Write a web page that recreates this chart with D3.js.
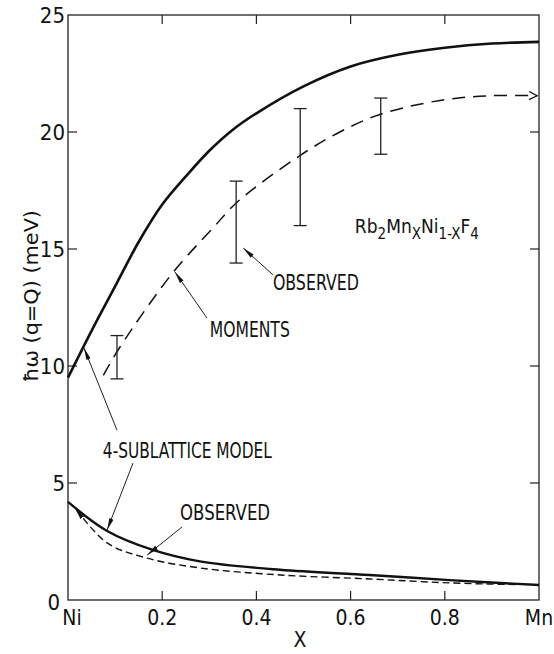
<!DOCTYPE html>
<html>
<head>
<meta charset="utf-8">
<script src="https://cdn.jsdelivr.net/npm/d3@7"></script>
<style>
  body { margin: 0; background: #fff; }
  text { font-family: "Liberation Sans Narrow", "DejaVu Sans Condensed", sans-serif; fill: #111; }
</style>
</head>
<body>
<div id="viz"></div>
<script>
// upper solid curve: 4-sublattice model
var modelX = [0, 0.05, 0.1, 0.15, 0.2, 0.25, 0.3, 0.35, 0.4, 0.5, 0.6, 0.7, 0.8, 0.9, 1.0];
var modelHigh = [9.5, 11.5, 13.4, 15.3, 16.9, 18.1, 19.2, 20.1, 20.8, 21.95, 22.8, 23.3, 23.6, 23.78, 23.85];

// upper dashed curve: moments
var momentsX = [0.075, 0.11, 0.223, 0.308, 0.359, 0.493, 0.577, 0.662, 0.79, 0.896, 0.996];
var moments = [9.6, 10.8, 14.0, 15.9, 17.0, 19.0, 20.0, 20.75, 21.35, 21.55, 21.55];

// observed points with error bars
var obsX = [0.104, 0.357, 0.493, 0.664];
var obsLow = [9.45, 14.4, 16.0, 19.05];
var obsHigh = [11.3, 17.9, 21.0, 21.45];

// lower solid curve: model
var lowX = [0, 0.083, 0.18, 0.28, 0.45, 0.64, 0.81, 1.0];
var lowModel = [4.19, 2.95, 2.14, 1.65, 1.29, 1.07, 0.85, 0.64];

// lower dashed curve: observed
var lowObsX = [0.015, 0.083, 0.168, 0.28, 0.45, 0.64, 0.81, 0.95];
var lowObs = [3.93, 2.44, 1.79, 1.37, 1.07, 0.9, 0.73, 0.66];

// tick labels
var xTicks = [0, 0.2, 0.4, 0.6, 0.8, 1];
var xTickLabels = ["Ni", "0.2", "0.4", "0.6", "0.8", "Mn"];
var yTicks = [0, 5, 10, 15, 20, 25];

var svg = d3.select('#viz').append('svg')
	.attr('width', 554)
	.attr('height', 654);

var pLeft = 68, pRight = 539, pTop = 15, pBottom = 600;

var x = d3.scaleLinear().domain([0, 1]).range([pLeft, pRight]);
var y = d3.scaleLinear().domain([0, 25]).range([pBottom, pTop]);

// markers
var defs = svg.append('defs');
defs.append('marker')
	.attr('id', 'head')
	.attr('viewBox', '0 0 12 6')
	.attr('refX', 12).attr('refY', 3)
	.attr('markerWidth', 12).attr('markerHeight', 6)
	.attr('markerUnits', 'userSpaceOnUse')
	.attr('orient', 'auto')
	.append('path').attr('d', 'M0,0.8 L12,3 L0,5.2 Z').attr('fill', '#111');
defs.append('marker')
	.attr('id', 'chevron')
	.attr('viewBox', '0 0 10 10')
	.attr('refX', 9).attr('refY', 5)
	.attr('markerWidth', 10).attr('markerHeight', 10)
	.attr('markerUnits', 'userSpaceOnUse')
	.attr('orient', 'auto')
	.append('path').attr('d', 'M1,1 L9,5 L1,9').attr('fill', 'none').attr('stroke', '#111').attr('stroke-width', 1.3);

// frame
svg.append('rect')
	.attr('x', pLeft).attr('y', pTop)
	.attr('width', pRight - pLeft).attr('height', pBottom - pTop)
	.attr('fill', 'none').attr('stroke', '#222').attr('stroke-width', 1.3);

// ticks, all pointing inward
var tl = 9;
var tickG = svg.append('g').attr('stroke', '#222').attr('stroke-width', 1.2);
xTicks.slice(1, -1).forEach(function(d) {
	tickG.append('line').attr('x1', x(d)).attr('x2', x(d)).attr('y1', pBottom).attr('y2', pBottom - tl);
	tickG.append('line').attr('x1', x(d)).attr('x2', x(d)).attr('y1', pTop).attr('y2', pTop + tl);
});
yTicks.slice(1, -1).forEach(function(d) {
	tickG.append('line').attr('x1', pLeft).attr('x2', pLeft + tl).attr('y1', y(d)).attr('y2', y(d));
	tickG.append('line').attr('x1', pRight).attr('x2', pRight - tl).attr('y1', y(d)).attr('y2', y(d));
});

// tick labels
svg.selectAll('.ylab').data(yTicks).enter().append('text')
	.attr('class', 'ylab')
	.attr('x', function(d) { return d === 0 ? pLeft - 8 : pLeft - 3; })
	.attr('y', function(d) { return y(d) + 8 + (d === 0 ? 2 : 0); })
	.attr('text-anchor', 'end')
	.attr('font-size', 22)
	.text(function(d) { return d; });

svg.selectAll('.xlab').data(xTicks).enter().append('text')
	.attr('class', 'xlab')
	.attr('x', function(d) { return x(d) + (d === 0 ? 4 : 0); })
	.attr('y', pBottom + 25)
	.attr('text-anchor', 'middle')
	.attr('font-size', 21)
	.text(function(d, i) { return xTickLabels[i]; });

// axis titles
svg.append('text')
	.attr('x', 300).attr('y', 647)
	.attr('text-anchor', 'middle')
	.attr('font-size', 21)
	.text('X');

svg.append('text')
	.attr('transform', 'translate(38,296) rotate(-90)')
	.attr('text-anchor', 'middle')
	.attr('font-size', 20)
	.attr('textLength', 172).attr('lengthAdjust', 'spacingAndGlyphs')
	.text('\u0127\u03C9 (q=Q)   (meV)');

// curves
var line = d3.line()
	.x(function(d) { return x(d[0]); })
	.y(function(d) { return y(d[1]); })
	.curve(d3.curveCatmullRom.alpha(0.5));

svg.append('path')
	.datum(d3.zip(modelX, modelHigh))
	.attr('d', line)
	.attr('fill', 'none').attr('stroke', '#111').attr('stroke-width', 2.6);

svg.append('path')
	.datum(d3.zip(momentsX, moments))
	.attr('d', line)
	.attr('fill', 'none').attr('stroke', '#111').attr('stroke-width', 1.5)
	.attr('stroke-dasharray', '13,8')
	.attr('marker-end', 'url(#chevron)');

svg.append('path')
	.datum(d3.zip(lowX, lowModel))
	.attr('d', line)
	.attr('fill', 'none').attr('stroke', '#111').attr('stroke-width', 2.4);

// drawn from right to left so the arrowhead sits at the Ni end
svg.append('path')
	.datum(d3.zip(lowObsX, lowObs).reverse())
	.attr('d', line)
	.attr('fill', 'none').attr('stroke', '#111').attr('stroke-width', 1.4)
	.attr('stroke-dasharray', '7,4')
	.attr('marker-end', 'url(#head)');

// error bars
var cap = 6.5;
var eb = svg.append('g').attr('stroke', '#222').attr('stroke-width', 1.3);
obsX.forEach(function(d, i) {
	eb.append('line').attr('x1', x(d)).attr('x2', x(d)).attr('y1', y(obsLow[i])).attr('y2', y(obsHigh[i]));
	eb.append('line').attr('x1', x(d) - cap).attr('x2', x(d) + cap).attr('y1', y(obsLow[i])).attr('y2', y(obsLow[i]));
	eb.append('line').attr('x1', x(d) - cap).attr('x2', x(d) + cap).attr('y1', y(obsHigh[i])).attr('y2', y(obsHigh[i]));
});

// annotations: text anchor in data units, arrows [tail, head]
var labels = [
	{ t: 'OBSERVED', at: [0.435, 13.25], w: 86 },
	{ t: 'MOMENTS', at: [0.301, 11.24], w: 80 },
	{ t: '4-SUBLATTICE MODEL', at: [0.074, 6.07], w: 169 },
	{ t: 'OBSERVED', at: [0.238, 3.42], w: 90 }
];
var arrows = [
	[[0.435, 13.9], [0.372, 15.04]],
	[[0.295, 12.05], [0.227, 14.02]],
	[[0.104, 7.26], [0.034, 10.77]],
	[[0.138, 5.85], [0.083, 2.99]],
	[[0.242, 3.12], [0.168, 1.92]]
];

labels.forEach(function(d) {
	svg.append('text')
		.attr('x', x(d.at[0])).attr('y', y(d.at[1]))
		.attr('font-size', 21)
		.attr('textLength', d.w).attr('lengthAdjust', 'spacingAndGlyphs')
		.text(d.t);
});

arrows.forEach(function(a) {
	svg.append('line')
		.attr('x1', x(a[0][0])).attr('y1', y(a[0][1]))
		.attr('x2', x(a[1][0])).attr('y2', y(a[1][1]))
		.attr('stroke', '#222').attr('stroke-width', 1)
		.attr('marker-end', 'url(#head)');
});

// compound formula Rb2MnxNi1-xF4
var f = svg.append('text')
	.attr('x', x(0.609)).attr('y', y(15.68))
	.attr('font-size', 19);
f.append('tspan').text('Rb');
f.append('tspan').attr('dy', 6).attr('font-size', 15).text('2');
f.append('tspan').attr('dy', -6).text('Mn');
f.append('tspan').attr('dy', 6).attr('font-size', 15).text('X');
f.append('tspan').attr('dy', -6).text('Ni');
f.append('tspan').attr('dy', 6).attr('font-size', 15).text('1-X');
f.append('tspan').attr('dy', -6).text('F');
f.append('tspan').attr('dy', 6).attr('font-size', 15).text('4');
</script>
</body>
</html>
